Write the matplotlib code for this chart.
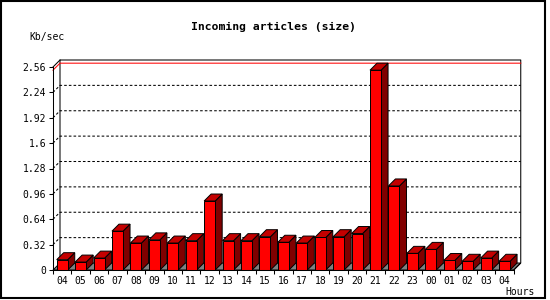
import matplotlib
matplotlib.use("Agg")
import matplotlib.pyplot as plt
from matplotlib.patches import Polygon, Rectangle

hours = ["04", "05", "06", "07", "08", "09", "10", "11", "12", "13", "14", "15", "16",
         "17", "18", "19", "20", "21", "22", "23", "00", "01", "02", "03", "04"]
values = [0.13, 0.10, 0.15, 0.49, 0.34, 0.38, 0.34, 0.37, 0.87, 0.37, 0.37, 0.42, 0.35,
          0.34, 0.41, 0.42, 0.46, 2.52, 1.06, 0.21, 0.26, 0.12, 0.11, 0.15, 0.11]
yticks = [0, 0.32, 0.64, 0.96, 1.28, 1.6, 1.92, 2.24, 2.56]
ylabels = ["0", "0.32", "0.64", "0.96", "1.28", "1.6", "1.92", "2.24", "2.56"]

W, H = 550, 300
fig = plt.figure(figsize=(W / 100, H / 100), dpi=100)
ax = fig.add_axes([53 / W, 30 / H, 460.75 / W, 203 / H])
ax.set_xlim(-0.5, len(hours) - 0.5)
ax.set_ylim(0, 2.56)
ax.patch.set_visible(False)

# 3d depth (7 px right, 7 px up) in data units
dx = 7 / (460.75 / len(hours))
dy = 7 / (203 / 2.56)
x0, x1 = -0.5, len(hours) - 0.5
ytop = 2.56
mono = "DejaVu Sans Mono"
bw = 0.3

# floor
ax.add_patch(Polygon([(x0, 0), (x1, 0), (x1 + dx, dy), (x0 + dx, dy)], closed=True,
                     facecolor="#808080", edgecolor="black", lw=0.7, clip_on=False, zorder=1))

# dashed grid on the back wall
for t in yticks[1:-1]:
    ax.plot([x0, x0 + dx, x1 + dx], [t, t + dy, t + dy], color="black", lw=0.75,
            ls=(0, (2.5, 2)), clip_on=False, zorder=1)

# back wall frame
ax.plot([x0 + dx, x0 + dx, x1 + dx, x1 + dx, x1],
        [dy, ytop + dy, ytop + dy, dy, 0], color="black", lw=0.75, clip_on=False, zorder=2)
ax.plot([x0, x0 + dx], [ytop, ytop + dy], color="black", lw=0.75, clip_on=False, zorder=2)

# max line
vmax = max(values)
ax.plot([x0, x0 + dx, x1 + dx], [vmax, vmax + dy, vmax + dy], color="#ff0000", lw=0.75,
        clip_on=False, zorder=2)

# bars
for i, v in enumerate(values):
    l, r = i - bw, i + bw
    ax.add_patch(Polygon([(r, 0), (r + dx, dy), (r + dx, v + dy), (r, v)], closed=True,
                         facecolor="#800000", edgecolor="black", lw=0.7, clip_on=False, zorder=3))
    ax.add_patch(Polygon([(l, v), (r, v), (r + dx, v + dy), (l + dx, v + dy)], closed=True,
                         facecolor="#c40000", edgecolor="black", lw=0.7, clip_on=False, zorder=3))
    ax.add_patch(Rectangle((l, 0), 2 * bw, v, facecolor="#ff0000", edgecolor="black",
                           lw=0.7, clip_on=False, zorder=3))

for s in ["top", "right"]:
    ax.spines[s].set_visible(False)
for s in ["left", "bottom"]:
    ax.spines[s].set_linewidth(0.75)
    ax.spines[s].set_zorder(4)

ax.set_yticks(yticks)
ax.set_yticklabels(ylabels, fontfamily=mono, fontsize=7)
ax.set_xticks(range(len(hours)))
ax.set_xticklabels(hours, fontfamily=mono, fontsize=7)
ax.set_xticks([k - 0.5 for k in range(len(hours) + 1)], minor=True)
ax.tick_params(axis="x", which="major", length=0, pad=4)
ax.tick_params(axis="x", which="minor", length=3, width=0.75, direction="out")
ax.tick_params(axis="y", length=3, width=0.75, pad=2)

fig.text(273.5 / W, 1 - 27 / H, "Incoming articles (size)", fontfamily=mono,
         fontsize=8.2, fontweight="bold", ha="center", va="center")
fig.text(29 / W, 1 - 37 / H, "Kb/sec", fontfamily=mono, fontsize=7, ha="left", va="center")
fig.text(505 / W, 1 - 292 / H, "Hours", fontfamily=mono, fontsize=7, ha="left", va="center")

fig.patches.append(Rectangle((0.5 / W, 2.5 / H), 544 / W, 297 / H, transform=fig.transFigure,
                             fill=False, edgecolor="black", lw=1.5))

fig.savefig("out.png", dpi=100)
